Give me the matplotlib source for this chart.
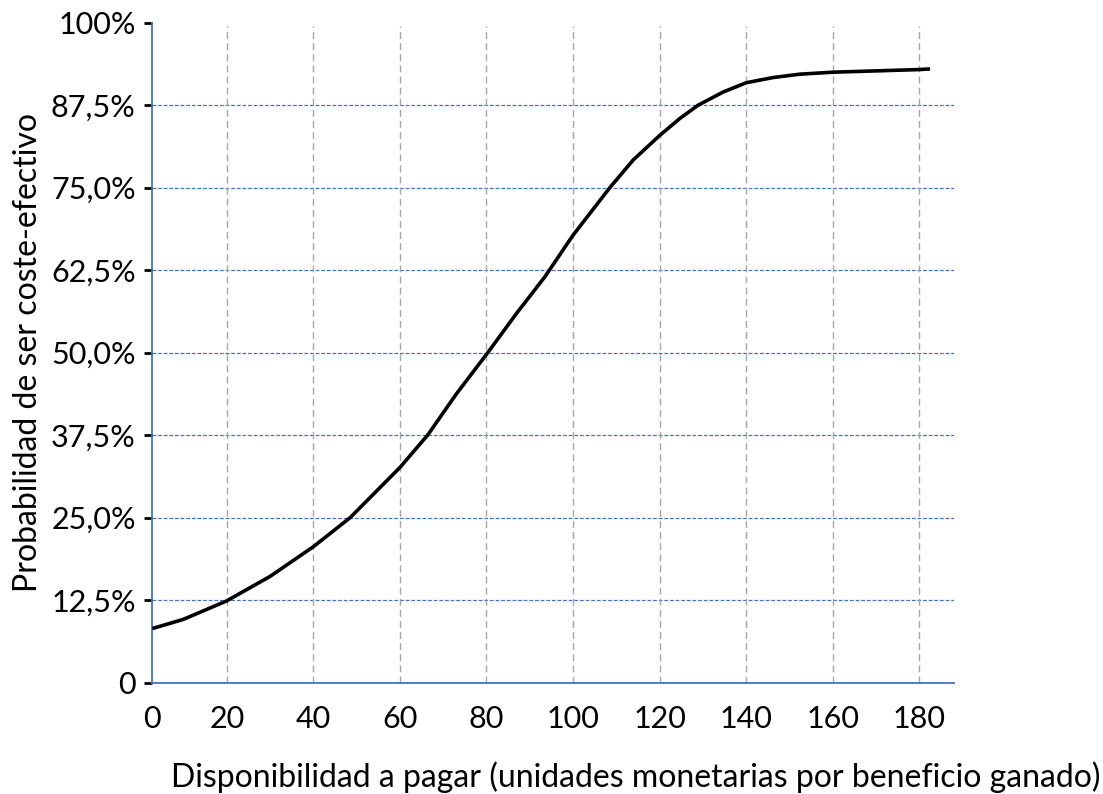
import matplotlib.pyplot as plt
import numpy as np

# valores
disponibilidad = [2.8, 10, 20, 30, 40, 48.5, 60, 66.4, 73.1, 80.3, 87.0, 93.5, 100,
                  108.5, 113.9, 120, 124.7, 128.9, 134.7, 140, 146.3, 152.4, 160, 170, 180, 182.5]
probabilidad = [8.2, 9.6, 12.4, 16.1, 20.6, 25.0, 32.6, 37.5, 43.8, 50.0, 56.0, 61.5, 67.8,
                75.0, 79.2, 82.9, 85.5, 87.5, 89.5, 90.9, 91.7, 92.2, 92.5, 92.7, 92.9, 93.0]

x_ticks = [20, 40, 60, 80, 100, 120, 140, 160, 180]
y_ticks = [0, 12.5, 25, 37.5, 50, 62.5, 75, 87.5, 100]
y_labels = ['0', '12,5%', '25,0%', '37,5%', '50,0%', '62,5%', '75,0%', '87,5%', '100%']

x_inicio = 2.8
x_fin = 188.1

plt.rcParams['font.family'] = ['Lato', 'DejaVu Sans']

fig = plt.figure(figsize=(11.03, 7.94), dpi=100)
ax = fig.add_axes([0.1381, 0.1402, 0.8652 - 0.1381, 0.9714 - 0.1402])

azul = '#4472C4'
gris = '#A6A6A6'

# lineas de la cuadricula
for yv in y_ticks[1:-1]:
    ax.axhline(yv, color=azul, lw=0.9, ls=(0, (3, 1.5)), zorder=1)
for xv in x_ticks:
    ax.plot([xv, xv], [0, 99.5], color=gris, lw=1.0, ls=(0, (5, 3)), zorder=1)

ax.plot(disponibilidad, probabilidad, color='black', lw=2.6, zorder=3,
        solid_capstyle='butt', solid_joinstyle='round')

ax.set_xlim(x_inicio, x_fin)
ax.set_ylim(0, 100)

ax.set_xticks([x_inicio] + x_ticks)
ax.set_xticklabels(['0'] + [str(v) for v in x_ticks])
ax.set_yticks(y_ticks)
ax.set_yticklabels(y_labels)

ax.tick_params(axis='x', length=0, pad=16, labelsize=22)
ax.tick_params(axis='y', length=6, width=2, color='black', pad=6, labelsize=22)

for s in ['top', 'right']:
    ax.spines[s].set_visible(False)
for s in ['left', 'bottom']:
    ax.spines[s].set_color(azul)
    ax.spines[s].set_linewidth(1.3)

ax.set_ylabel('Probabilidad de ser coste-efectivo', fontsize=23, labelpad=6)
fig.text(636 / 1103, 1 - 777 / 794,
         'Disponibilidad a pagar (unidades monetarias por beneficio ganado)',
         ha='center', va='center', fontsize=23)

plt.savefig('out.png', dpi=100)
